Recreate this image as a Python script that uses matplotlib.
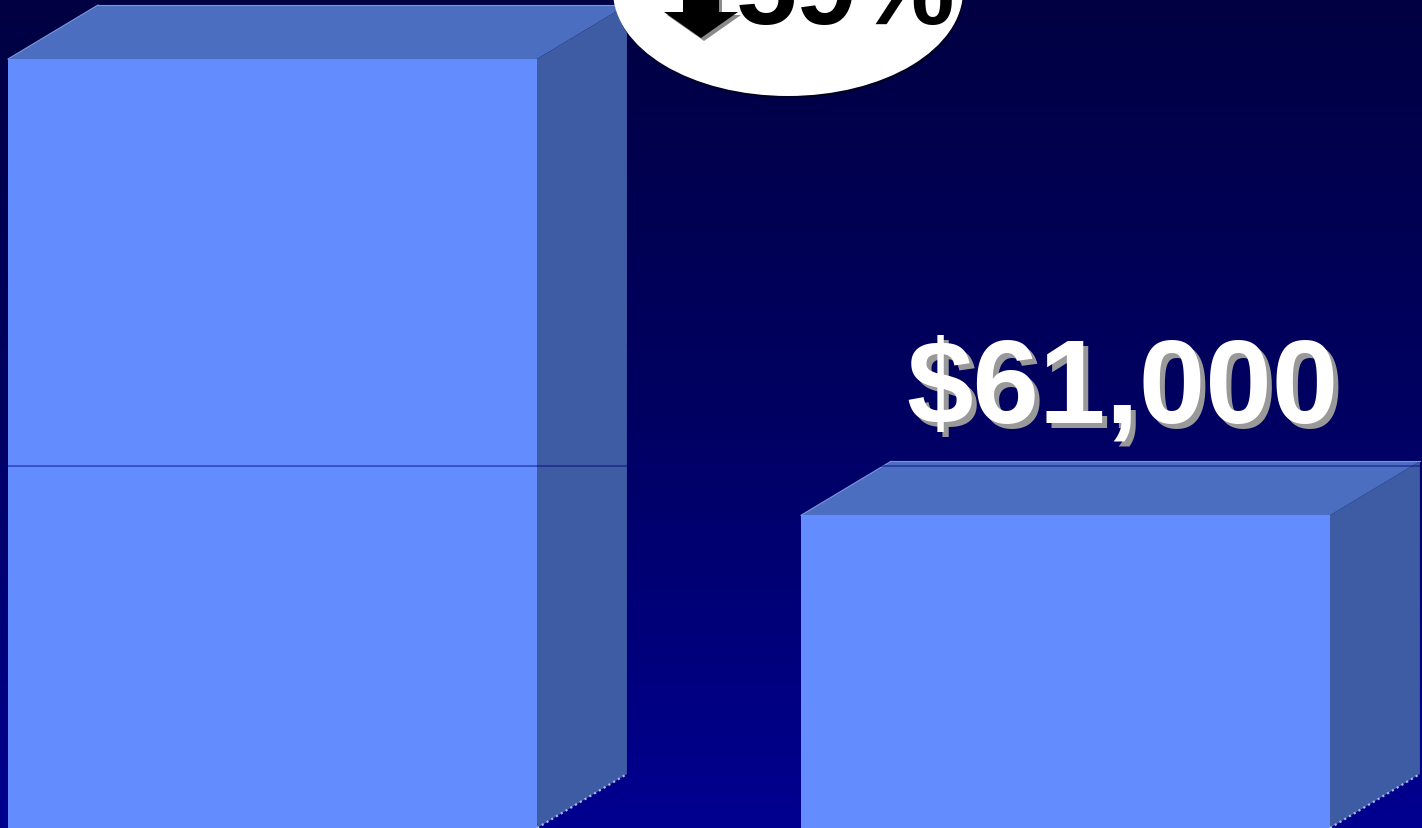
import matplotlib
matplotlib.use('Agg')
import matplotlib.pyplot as plt
import numpy as np
from matplotlib.patches import Polygon, Ellipse
from matplotlib.colors import LinearSegmentedColormap

# ---- data ----
categories = ['Before', 'After']
values = [150000, 61000]
value_labels = [None, '$61,000']   # the first bar's label lies above the visible area
gridline_values = [60000]

# ---- style ----
FRONT = '#638CFF'
TOP = '#4B6EC0'
SIDE = '#3E5CA4'
FONT = ['Liberation Sans', 'DejaVu Sans']

W, H, DPI = 1422, 829, 100
fig = plt.figure(figsize=(W / DPI, H / DPI), dpi=DPI)

# background gradient
bg = fig.add_axes([0, 0, 1, 1])
bg.axis('off')
grad = np.linspace(0, 1, 256).reshape(-1, 1)
cmap = LinearSegmentedColormap.from_list('bg', ['#000042', '#000062', '#000090'])
bg.imshow(grad, aspect='auto', cmap=cmap, extent=[0, 1, 0, 1], origin='upper')

ax = fig.add_axes([0, 0, 1, 1])
ax.patch.set_alpha(0)
ax.axis('off')

bar_width = 0.667
x = np.arange(len(values))
xlim = (-0.3436, 1.4496)
ylim = (0, 161700)
ax.set_xlim(*xlim)
ax.set_ylim(*ylim)

# depth of 3D effect in data units (90 px right, 54 px up)
dx = 90 * (xlim[1] - xlim[0]) / W
dy = 54 * (ylim[1] - ylim[0]) / H

# gridline on back wall
for g in gridline_values:
    ax.plot(list(xlim), [g + dy, g + dy], color='#000080', alpha=0.5, lw=1.2, zorder=5)

ax.bar(x, values, width=bar_width, color=FRONT, zorder=3)
for xi, v, label in zip(x, values, value_labels):
    x0, x1 = xi - bar_width / 2, xi + bar_width / 2
    ax.add_patch(Polygon([(x0, v), (x1, v), (x1 + dx, v + dy), (x0 + dx, v + dy)],
                         closed=True, facecolor=TOP, edgecolor='none', zorder=2))
    ax.add_patch(Polygon([(x1, 0), (x1, v), (x1 + dx, v + dy), (x1 + dx, dy)],
                         closed=True, facecolor=SIDE, edgecolor='none', zorder=2))
    ax.plot([x1, x1 + dx], [0, dy], color='#A8B8E8', ls=(0, (1, 1.5)), lw=1.6, zorder=4)
    ax.plot([x0, x0 + dx], [v, v + dy], color='#7F96D8', lw=0.8, zorder=4)
    ax.plot([x0 + dx, x1 + dx], [v + dy, v + dy], color='#7F96D8', lw=0.8, zorder=4)

    if label:
        ax.annotate(label, xy=(xi, v), xytext=(62, 89), textcoords='offset pixels',
                    ha='center', va='baseline', fontsize=86, fontweight='bold',
                    family=FONT, color='#999999', zorder=6)
        ax.annotate(label, xy=(xi, v), xytext=(57, 94), textcoords='offset pixels',
                    ha='center', va='baseline', fontsize=86, fontweight='bold',
                    family=FONT, color='white', zorder=7)

# callout ellipse with change
pct = round((1 - values[1] / values[0]) * 100)


def fx(px):
    return px / W


def fy(py):
    return 1 - py / H


fig.patches.append(Ellipse((fx(789), fy(-6)), 350 / W, 210 / H, transform=fig.transFigure,
                           facecolor='#000020', edgecolor='none', zorder=8))
fig.patches.append(Ellipse((fx(788), fy(-8)), 350 / W, 210 / H, transform=fig.transFigure,
                           facecolor='white', edgecolor='none', zorder=9))

arrow = [(683, -40), (719, -40), (719, 13), (738, 13), (701, 39), (664, 13), (683, 13)]
fig.patches.append(Polygon([(fx(a + 3), fy(b + 3)) for a, b in arrow], closed=True,
                           transform=fig.transFigure, facecolor='#8A8A8A',
                           edgecolor='none', zorder=10))
fig.patches.append(Polygon([(fx(a), fy(b)) for a, b in arrow], closed=True,
                           transform=fig.transFigure, facecolor='black',
                           edgecolor='none', zorder=11))
fig.text(fx(736), fy(24), f'{pct}%', ha='left', va='baseline', fontsize=79,
         fontweight='bold', family=FONT, color='black', zorder=12)

fig.savefig('out.png', dpi=DPI)
